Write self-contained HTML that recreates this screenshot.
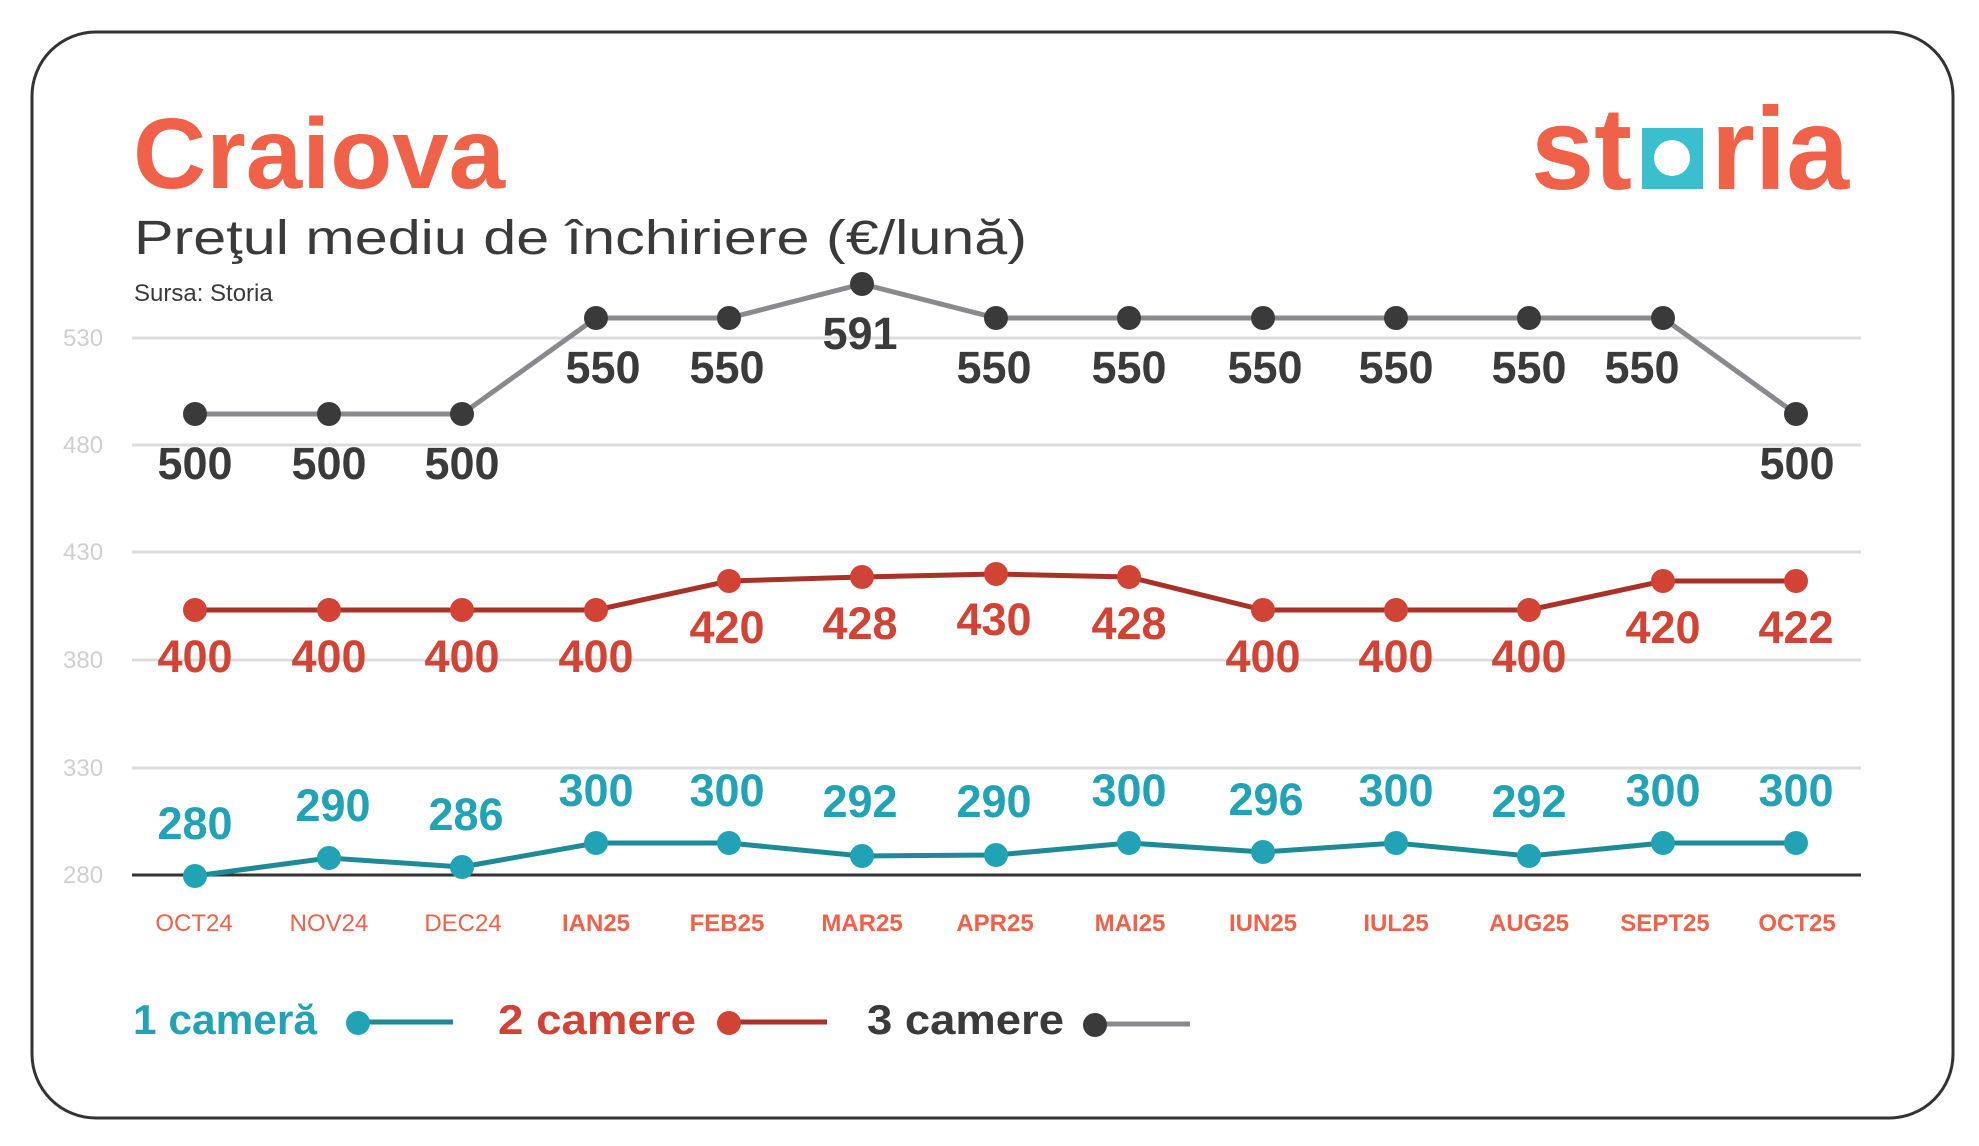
<!DOCTYPE html>
<html><head><meta charset="utf-8"><style>
html,body{margin:0;padding:0;background:#fff;}
svg{display:block;}
text{font-family:"Liberation Sans",sans-serif;}
</style></head><body>
<svg width="1979" height="1146" viewBox="0 0 1979 1146" xmlns="http://www.w3.org/2000/svg">
<rect x="32" y="32" width="1921" height="1086" rx="64" ry="64" fill="#fff" stroke="#333" stroke-width="3"/>
<text x="133" y="188" font-size="100" font-weight="bold" fill="#ef6148" textLength="372" lengthAdjust="spacingAndGlyphs">Craiova</text>
<text x="1531" y="189" font-size="117" font-weight="bold" fill="#ef6148" textLength="101" lengthAdjust="spacingAndGlyphs">st</text>
<rect x="1642" y="128" width="61" height="61" fill="#3bbfcf"/>
<circle cx="1672" cy="158" r="18" fill="#fff"/>
<text x="1711" y="189" font-size="117" font-weight="bold" fill="#ef6148" textLength="138" lengthAdjust="spacingAndGlyphs">ria</text>
<text x="134" y="254" font-size="48" fill="#3a3a3a" textLength="893" lengthAdjust="spacingAndGlyphs">Preţul mediu de închiriere (€/lună)</text>
<text x="134" y="301" font-size="24" fill="#3a3a3a">Sursa: Storia</text>
<g stroke="#dcdcdc" stroke-width="3">
<line x1="132" y1="338" x2="1861" y2="338"/>
<line x1="132" y1="445" x2="1861" y2="445"/>
<line x1="132" y1="552" x2="1861" y2="552"/>
<line x1="132" y1="660" x2="1861" y2="660"/>
<line x1="132" y1="768" x2="1861" y2="768"/>
</g>
<line x1="132" y1="875" x2="1861" y2="875" stroke="#333" stroke-width="3"/>
<g font-size="24" fill="#cfcfcf">
<text x="63" y="346">530</text><text x="63" y="453">480</text><text x="63" y="560">430</text>
<text x="63" y="668">380</text><text x="63" y="776">330</text><text x="63" y="883">280</text>
</g>
<polyline fill="none" stroke="#8a8a8e" stroke-width="5" points="195,414 329,414 462,414 596,318 729,318 862,284 996,318 1129,318 1263,318 1396,318 1529,318 1663,318 1796,414"/>
<g fill="#3a3a3a">
<circle cx="195" cy="414" r="12"/><circle cx="329" cy="414" r="12"/><circle cx="462" cy="414" r="12"/><circle cx="596" cy="318" r="12"/><circle cx="729" cy="318" r="12"/><circle cx="862" cy="284" r="12"/><circle cx="996" cy="318" r="12"/><circle cx="1129" cy="318" r="12"/><circle cx="1263" cy="318" r="12"/><circle cx="1396" cy="318" r="12"/><circle cx="1529" cy="318" r="12"/><circle cx="1663" cy="318" r="12"/><circle cx="1796" cy="414" r="12"/>
</g>
<g font-size="45" font-weight="bold" fill="#3a3a3a" text-anchor="middle">
<text x="195" y="479">500</text><text x="329" y="479">500</text><text x="462" y="479">500</text>
<text x="603" y="383">550</text><text x="727" y="383">550</text><text x="860" y="349">591</text>
<text x="994" y="383">550</text><text x="1129" y="383">550</text><text x="1265" y="383">550</text>
<text x="1396" y="383">550</text><text x="1529" y="383">550</text><text x="1642" y="383">550</text>
<text x="1797" y="479">500</text>
</g>
<polyline fill="none" stroke="#a83228" stroke-width="5" points="195,610 329,610 462,610 596,610 729,581 862,577 996,574 1129,577 1263,610 1396,610 1529,610 1663,581 1796,581"/>
<g fill="#d14334">
<circle cx="195" cy="610" r="12"/><circle cx="329" cy="610" r="12"/><circle cx="462" cy="610" r="12"/><circle cx="596" cy="610" r="12"/><circle cx="729" cy="581" r="12"/><circle cx="862" cy="577" r="12"/><circle cx="996" cy="574" r="12"/><circle cx="1129" cy="577" r="12"/><circle cx="1263" cy="610" r="12"/><circle cx="1396" cy="610" r="12"/><circle cx="1529" cy="610" r="12"/><circle cx="1663" cy="581" r="12"/><circle cx="1796" cy="581" r="12"/>
</g>
<g font-size="45" font-weight="bold" fill="#d14334" text-anchor="middle">
<text x="195" y="672">400</text><text x="329" y="672">400</text><text x="462" y="672">400</text><text x="596" y="672">400</text>
<text x="727" y="643">420</text><text x="860" y="639">428</text><text x="994" y="635">430</text><text x="1129" y="639">428</text>
<text x="1263" y="672">400</text><text x="1396" y="672">400</text><text x="1529" y="672">400</text>
<text x="1663" y="643">420</text><text x="1796" y="643">422</text>
</g>
<polyline fill="none" stroke="#1e8a96" stroke-width="5" points="195,876 329,858 462,867 596,843 729,843 862,856 996,855 1129,843 1263,852 1396,843 1529,856 1663,843 1796,843"/>
<g fill="#21a3b5">
<circle cx="195" cy="876" r="12"/><circle cx="329" cy="858" r="12"/><circle cx="462" cy="867" r="12"/><circle cx="596" cy="843" r="12"/><circle cx="729" cy="843" r="12"/><circle cx="862" cy="856" r="12"/><circle cx="996" cy="855" r="12"/><circle cx="1129" cy="843" r="12"/><circle cx="1263" cy="852" r="12"/><circle cx="1396" cy="843" r="12"/><circle cx="1529" cy="856" r="12"/><circle cx="1663" cy="843" r="12"/><circle cx="1796" cy="843" r="12"/>
</g>
<g font-size="45" font-weight="bold" fill="#21a3b5" text-anchor="middle">
<text x="195" y="839">280</text><text x="333" y="821">290</text><text x="466" y="830">286</text>
<text x="596" y="806">300</text><text x="727" y="806">300</text><text x="860" y="817">292</text>
<text x="994" y="817">290</text><text x="1129" y="806">300</text><text x="1266" y="815">296</text>
<text x="1396" y="806">300</text><text x="1529" y="817">292</text><text x="1663" y="806">300</text><text x="1796" y="806">300</text>
</g>
<g font-size="24" fill="#ef6148" text-anchor="middle">
<text x="194" y="931">OCT24</text><text x="329" y="931">NOV24</text><text x="463" y="931">DEC24</text>
<g font-weight="bold">
<text x="596" y="931">IAN25</text><text x="727" y="931">FEB25</text><text x="862" y="931">MAR25</text>
<text x="995" y="931">APR25</text><text x="1130" y="931">MAI25</text><text x="1263" y="931">IUN25</text>
<text x="1396" y="931">IUL25</text><text x="1529" y="931">AUG25</text><text x="1665" y="931">SEPT25</text><text x="1797" y="931">OCT25</text>
</g></g>
<text x="133" y="1034" font-size="42" font-weight="bold" fill="#21a3b5" textLength="184" lengthAdjust="spacingAndGlyphs">1 cameră</text>
<line x1="358" y1="1022" x2="453" y2="1022" stroke="#1e8a96" stroke-width="5"/>
<circle cx="358" cy="1023" r="12" fill="#21a3b5"/>
<text x="498" y="1034" font-size="42" font-weight="bold" fill="#d14334" textLength="198" lengthAdjust="spacingAndGlyphs">2 camere</text>
<line x1="729" y1="1022" x2="827" y2="1022" stroke="#a83228" stroke-width="5"/>
<circle cx="729" cy="1023" r="12" fill="#d14334"/>
<text x="867" y="1034" font-size="42" font-weight="bold" fill="#3a3a3a" textLength="197" lengthAdjust="spacingAndGlyphs">3 camere</text>
<line x1="1095" y1="1024" x2="1190" y2="1024" stroke="#8a8a8e" stroke-width="5"/>
<circle cx="1095" cy="1025" r="12" fill="#3a3a3a"/>
</svg>
</body></html>
